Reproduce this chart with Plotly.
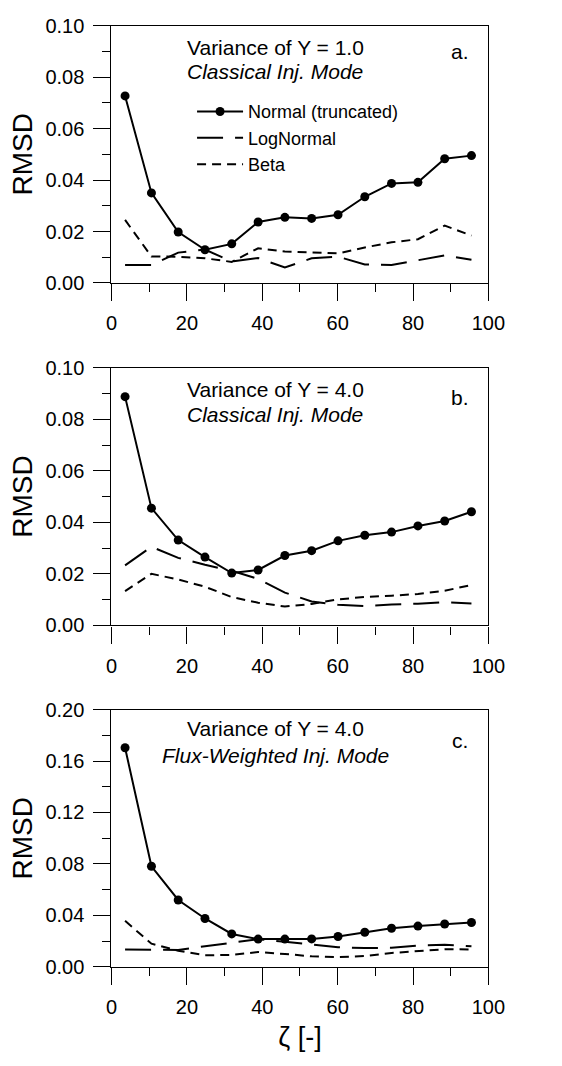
import plotly.graph_objects as go

zeta = [3.6, 10.6, 17.7, 24.8, 31.9, 38.9, 46.0, 53.1, 60.1, 67.2, 74.3, 81.3, 88.4, 95.5]

a_normal = [0.0727, 0.0350, 0.0198, 0.0129, 0.0152, 0.0237, 0.0255, 0.0251, 0.0265, 0.0335, 0.0387, 0.0391, 0.0483, 0.0495]
a_lognormal = [0.0070, 0.0070, 0.0118, 0.0130, 0.0083, 0.0097, 0.0060, 0.0096, 0.0102, 0.0072, 0.0070, 0.0088, 0.0107, 0.0090]
a_beta = [0.0245, 0.0103, 0.0102, 0.0096, 0.0082, 0.0135, 0.0122, 0.0118, 0.0115, 0.0138, 0.0158, 0.0170, 0.0223, 0.0184]

b_normal = [0.0888, 0.0455, 0.0331, 0.0265, 0.0203, 0.0215, 0.0271, 0.0290, 0.0328, 0.0350, 0.0362, 0.0386, 0.0405, 0.0441]
b_lognormal = [0.0233, 0.0305, 0.0262, 0.0235, 0.0212, 0.0180, 0.0127, 0.0093, 0.0080, 0.0075, 0.0081, 0.0084, 0.0090, 0.0085]
b_beta = [0.0133, 0.0200, 0.0178, 0.0150, 0.0110, 0.0088, 0.0073, 0.0083, 0.0101, 0.0110, 0.0115, 0.0122, 0.0134, 0.0157]

c_normal = [0.1703, 0.0782, 0.0520, 0.0376, 0.0256, 0.0216, 0.0216, 0.0217, 0.0236, 0.0269, 0.0300, 0.0317, 0.0333, 0.0345]
c_lognormal = [0.0135, 0.0135, 0.0132, 0.0160, 0.0190, 0.0215, 0.0195, 0.0172, 0.0153, 0.0146, 0.0148, 0.0166, 0.0172, 0.0160]
c_beta = [0.0358, 0.0180, 0.0125, 0.0090, 0.0093, 0.0115, 0.0100, 0.0082, 0.0076, 0.0084, 0.0108, 0.0125, 0.0137, 0.0135]

series_names = ["Normal (truncated)", "LogNormal", "Beta"]
panel_titles = [("Variance of Y = 1.0", "Classical Inj. Mode", "a."),
                ("Variance of Y = 4.0", "Classical Inj. Mode", "b."),
                ("Variance of Y = 4.0", "Flux-Weighted Inj. Mode", "c.")]
y_ranges = [(0, 0.10, 0.02, 0.01), (0, 0.10, 0.02, 0.01), (0, 0.20, 0.04, 0.02)]
panels = [(a_normal, a_lognormal, a_beta), (b_normal, b_lognormal, b_beta), (c_normal, c_lognormal, c_beta)]

W, H = 562, 1066
FONT = "Liberation Sans, Arial, sans-serif"
XL, XR = 110, 503
x_dom = [XL / W, XR / W]
y_px = [(15, 277.7), (364.3, 627.3), (713.3, 976)]
# annotation offsets (px below plot top): title line 1, title line 2, panel letter
ann_off = [(22, 47, 26), (22.4, 47.4, 30.7), (19.7, 46.7, 31.7)]

fig = go.Figure()
layout = dict(
    width=W, height=H,
    margin=dict(l=0, r=0, t=0, b=0),
    paper_bgcolor="white", plot_bgcolor="white",
    font=dict(family=FONT, size=20, color="black"),
    showlegend=True,
    legend=dict(x=194 / W, y=1 - 84 / H, xanchor="left", yanchor="top",
                bgcolor="rgba(0,0,0,0)", font=dict(size=18, family=FONT),
                itemwidth=46, tracegroupgap=0),
)
annotations = []
for i, (vals, titles, yr) in enumerate(zip(panels, panel_titles, y_ranges)):
    k = "" if i == 0 else str(i + 1)
    xa, ya = "x" + k, "y" + k
    top, bot = y_px[i]
    layout["xaxis" + k] = dict(
        domain=x_dom, range=[0, 100], anchor=ya,
        tickmode="linear", tick0=0, dtick=20,
        ticks="outside", ticklen=17, tickwidth=1.3, tickcolor="black",
        minor=dict(ticks="outside", ticklen=8, tickwidth=1.3, tickcolor="black", dtick=10, tick0=0),
        showline=True, linecolor="black", linewidth=1.3, mirror=True,
        showgrid=False, zeroline=False,
        tickfont=dict(size=20, family=FONT), ticklabelstandoff=5,
        title=dict(text="ζ [-]", font=dict(size=27, family=FONT), standoff=10) if i == 2 else None,
    )
    layout["yaxis" + k] = dict(
        domain=[1 - bot / H, 1 - top / H], range=[yr[0], yr[1]], anchor=xa,
        tickmode="linear", tick0=0, dtick=yr[2], tickformat=".2f",
        ticks="outside", ticklen=17, tickwidth=1.3, tickcolor="black",
        minor=dict(ticks="outside", ticklen=8, tickwidth=1.3, tickcolor="black", dtick=yr[3], tick0=0),
        showline=True, linecolor="black", linewidth=1.3, mirror=True,
        showgrid=False, zeroline=False,
        tickfont=dict(size=20, family=FONT), ticklabelstandoff=5,
        title=dict(text="RMSD", font=dict(size=28, family=FONT), standoff=4),
    )
    normal, logn, beta = vals
    fig.add_trace(go.Scatter(x=zeta, y=beta, mode="lines", name=series_names[2],
                             line=dict(color="black", width=2, dash="9px,6px"),
                             xaxis=xa, yaxis=ya, showlegend=(i == 0), legendrank=3))
    fig.add_trace(go.Scatter(x=zeta, y=logn, mode="lines", name=series_names[1],
                             line=dict(color="black", width=2, dash="26px,12px"),
                             xaxis=xa, yaxis=ya, showlegend=(i == 0), legendrank=2))
    fig.add_trace(go.Scatter(x=zeta, y=normal, mode="lines+markers", name=series_names[0],
                             line=dict(color="black", width=2),
                             marker=dict(color="black", size=9),
                             xaxis=xa, yaxis=ya, showlegend=(i == 0), legendrank=1))
    t1, t2, lab = titles
    xd, yd = xa + " domain", ya + " domain"
    ph = bot - top
    o1, o2, o3 = ann_off[i]
    cx = 0.435
    annotations.append(dict(text=t1, x=cx, y=1 - o1 / ph,
                            xref=xd, yref=yd, showarrow=False, font=dict(size=21, family=FONT),
                            xanchor="center", yanchor="middle"))
    annotations.append(dict(text="<i>" + t2 + "</i>", x=cx, y=1 - o2 / ph,
                            xref=xd, yref=yd, showarrow=False, font=dict(size=21, family=FONT),
                            xanchor="center", yanchor="middle"))
    annotations.append(dict(text=lab, x=0.925, y=1 - o3 / ph,
                            xref=xd, yref=yd, showarrow=False, font=dict(size=21, family=FONT),
                            xanchor="center", yanchor="middle"))

layout["annotations"] = annotations
fig.update_layout(**layout)
fig.write_html("out.html")
